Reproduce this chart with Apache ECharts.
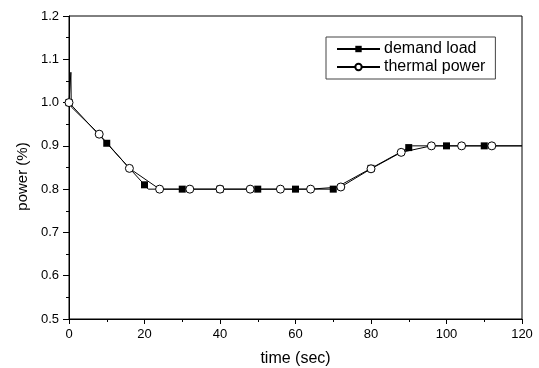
<!DOCTYPE html>
<html>
<head>
<meta charset="utf-8">
<script src="https://cdn.jsdelivr.net/npm/echarts@6/dist/echarts.min.js"></script>
<style>html,body{margin:0;padding:0;background:#fff}#c{width:539px;height:368px}</style>
</head>
<body>
<div id="c"></div>
<script>
// Demand load: points drawn with square markers, plus unmarked vertices
const demandMarkT = [0, 10, 20, 30, 40, 50, 60, 70, 80, 90, 100, 110];
const demandMarkV = [1.0, 0.906, 0.81, 0.8, 0.8, 0.8, 0.8, 0.8, 0.848, 0.896, 0.9, 0.9];
const demandBendT = [21, 91, 120];
const demandBendV = [0.8, 0.9, 0.9];
// Thermal power: points drawn with circle markers, plus unmarked vertices
const thermalMarkT = [0, 8, 16, 24, 32, 40, 48, 56, 64, 72, 80, 88, 96, 104, 112];
const thermalMarkV = [1.0, 0.927, 0.848, 0.8, 0.8, 0.8, 0.8, 0.8, 0.8, 0.805, 0.847, 0.885, 0.9, 0.9, 0.9];
const thermalBendT = [0.5, 0.6, 120];
const thermalBendV = [1.07, 0.99, 0.9];
const seriesNames = ['demand load', 'thermal power'];
const xTicks = [0, 20, 40, 60, 80, 100, 120];
const yTicks = [0.5, 0.6, 0.7, 0.8, 0.9, 1.0, 1.1, 1.2];

function merge(mt, mv, bt, bv) {
  const pts = [];
  mt.forEach((t, i) => pts.push({t: t, v: mv[i], m: true}));
  bt.forEach((t, i) => pts.push({t: t, v: bv[i], m: false}));
  pts.sort((a, b) => a.t - b.t);
  return pts.map(p => p.m ? {value: [p.t, p.v]} : {value: [p.t, p.v], symbol: 'none'});
}

const font = 'Liberation Sans, Arial, sans-serif';
const chart = echarts.init(document.getElementById('c'), null, {renderer: 'canvas'});
chart.setOption({
  animation: false,
  backgroundColor: '#fff',
  grid: {left: 69, right: 17, top: 16, bottom: 49, show: true, borderColor: '#000', borderWidth: 1,
         containLabel: false, outerBoundsMode: 'none'},
  legend: {
    orient: 'vertical', left: 326, top: 37,
    itemWidth: 43, itemHeight: 8, itemGap: 2,
    padding: [4, 10, 4, 10],
    borderColor: '#444', borderWidth: 1, backgroundColor: '#fff',
    textStyle: {fontFamily: font, fontSize: 16, color: '#000', padding: [0, 0, 0, -1]},
    data: seriesNames
  },
  xAxis: {
    type: 'value', min: xTicks[0], max: xTicks[xTicks.length - 1], interval: 20,
    name: 'time (sec)', nameLocation: 'middle', nameGap: 32,
    nameTextStyle: {fontFamily: font, fontSize: 16, color: '#000'},
    axisLine: {lineStyle: {color: '#000', width: 1}},
    axisTick: {inside: false, length: 5, lineStyle: {color: '#000'}},
    minorTick: {show: true, splitNumber: 2, length: 3, lineStyle: {color: '#000'}},
    axisLabel: {fontFamily: font, fontSize: 13, color: '#000', margin: 9},
    splitLine: {show: false}
  },
  yAxis: {
    type: 'value', min: yTicks[0], max: yTicks[yTicks.length - 1], interval: 0.1,
    name: 'power (%)', nameLocation: 'middle', nameGap: 37, nameRotate: 90,
    nameTextStyle: {fontFamily: font, fontSize: 15, color: '#000', padding: [0, 18, 0, 0]},
    axisLine: {lineStyle: {color: '#000', width: 1}},
    axisTick: {inside: false, length: 6, lineStyle: {color: '#000'}},
    minorTick: {show: true, splitNumber: 2, length: 3, lineStyle: {color: '#000'}},
    axisLabel: {fontFamily: font, fontSize: 13, color: '#000', margin: 10,
      formatter: v => v.toFixed(1)},
    splitLine: {show: false}
  },
  series: [
    {
      name: seriesNames[0], type: 'line',
      data: merge(demandMarkT, demandMarkV, demandBendT, demandBendV),
      symbol: 'rect', symbolSize: 7, showAllSymbol: true,
      lineStyle: {color: '#000', width: 1},
      itemStyle: {color: '#000', borderColor: '#000', borderWidth: 0},
      z: 2
    },
    {
      name: seriesNames[1], type: 'line',
      data: merge(thermalMarkT, thermalMarkV, thermalBendT, thermalBendV),
      symbol: 'circle', symbolSize: 8, showAllSymbol: true,
      lineStyle: {color: '#000', width: 1},
      itemStyle: {color: '#fff', borderColor: '#000', borderWidth: 1},
      z: 3
    }
  ]
});
</script>
</body>
</html>
